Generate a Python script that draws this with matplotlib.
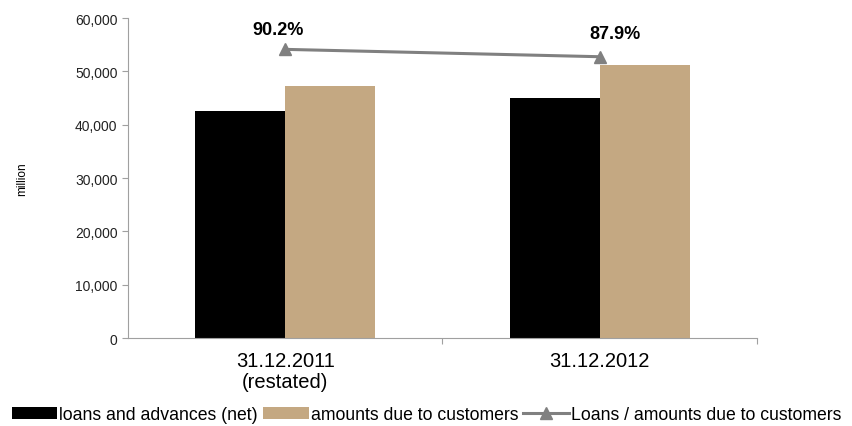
import matplotlib.pyplot as plt
import numpy as np

categories = ['31.12.2011\n(restated)', '31.12.2012']
loans = [42600, 45000]
amounts_due = [47200, 51200]
ratio = [0.902, 0.879]
ratio_labels = ['90.2%', '87.9%']
label_offsets = [(-5, 14), (11, 17)]

plt.rcParams['font.family'] = ['Liberation Sans', 'DejaVu Sans']

fig = plt.figure(figsize=(8.53, 4.27), dpi=100)
ax = fig.add_axes([0.150, 0.206, 0.7375, 0.7495])

x = np.arange(len(categories))
w = 0.286
b1 = ax.bar(x - w / 2, loans, w, color='black', label='loans and advances (net)')
b2 = ax.bar(x + w / 2, amounts_due, w, color='#c4a882', label='amounts due to customers')

ax.set_xlim(-0.5, 1.5)
ax.set_ylim(0, 60000)
ax.set_yticks(range(0, 60001, 10000))
ax.set_yticklabels([f'{v:,}' for v in range(0, 60001, 10000)], fontsize=10, color='#222222')
ax.set_ylabel('million', fontsize=8.5, labelpad=34)
ax.set_xticks([0.5, 1.5])
ax.set_xticklabels([])
ax.set_xticks(x, minor=True)
ax.set_xticklabels(categories, minor=True, fontsize=14.5, linespacing=1.15)
ax.tick_params(axis='x', which='minor', length=0, pad=9)
ax.tick_params(axis='x', which='major', length=4, color='#a0a0a0')
ax.tick_params(axis='y', length=4, color='#a0a0a0')
for s in ['top', 'right']:
    ax.spines[s].set_visible(False)
for s in ['left', 'bottom']:
    ax.spines[s].set_color('#a0a0a0')

ax2 = ax.twinx()
ax2.set_ylim(0, 1)
ln, = ax2.plot(x, ratio, color='#808080', lw=2.2, marker='^', ms=8,
               label='Loans / amounts due to customers')
for xi, r, t, off in zip(x, ratio, ratio_labels, label_offsets):
    ax2.annotate(t, (xi, r), xytext=off, textcoords='offset points',
                 ha='center', va='center', fontsize=13, fontweight='bold')
ax2.axis('off')

fig.legend(handles=[b1, b2, ln], loc='lower center', bbox_to_anchor=(0.5, -0.03),
           ncol=3, frameon=False, prop={'size': 12.7},
           handlelength=2.6, handletextpad=0.1, columnspacing=0.3)

fig.savefig('out.png', dpi=100)
